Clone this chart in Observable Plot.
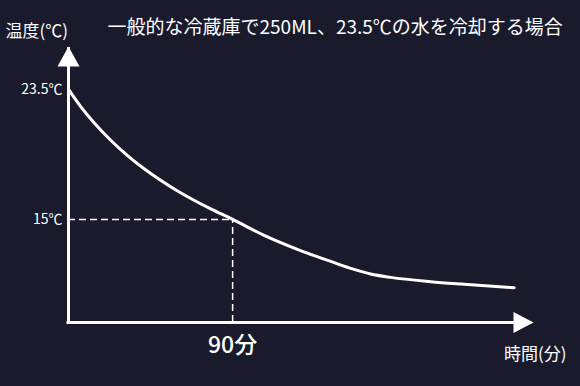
<!DOCTYPE html>
<html>
<head>
<meta charset="utf-8">
<script src="https://cdn.jsdelivr.net/npm/d3@7"></script>
<script src="https://cdn.jsdelivr.net/npm/@observablehq/plot@0.6"></script>
<style>
  html, body { margin: 0; padding: 0; background: #191b2d; }
  #chart { width: 580px; height: 386px; }
</style>
</head>
<body>
<div id="chart"></div>
<script>
// ---- data ----
const minutes = [0, 6.6, 13.9, 23, 32.2, 41.3, 50.5, 59.6, 68.8, 78, 90, 107, 125.5, 143.8, 156.6, 165.7, 176.7, 198.7, 217, 244.4];
const temps   = [23.5, 22.39, 21.33, 20.19, 19.19, 18.33, 17.56, 16.87, 16.25, 15.69, 15.0, 13.97, 13.04, 12.25, 11.73, 11.43, 11.21, 10.93, 10.76, 10.53];
const yTicks = [15, 23.5];
const xTicks = [90];
const markTime = 90;
const markTemp = 15;
const xAxisEnd = 255;      // tip of the x arrow (minutes)
const yAxisMin = 8.26;     // temperature at the x axis line
const yAxisEnd = 26.3;     // tip of the y arrow (℃)
const titleText = "一般的な冷蔵庫で250ML、23.5℃の水を冷却する場合";
const yLabelText = "温度(℃)";
const xLabelText = "時間(分)";

const data = minutes.map((m, i) => ({minute: m, temp: temps[i]}));
const font = "'Noto Sans CJK JP', 'Noto Sans', sans-serif";
const W = "#ffffff";

const arrowUp = {draw(ctx) { ctx.moveTo(0, 0); ctx.lineTo(11, 20); ctx.lineTo(-11, 20); ctx.closePath(); }};
const arrowRight = {draw(ctx) { ctx.moveTo(0, 0); ctx.lineTo(-20, 10.5); ctx.lineTo(-20, -10.5); ctx.closePath(); }};

const chart = Plot.plot({
  width: 580,
  height: 386,
  marginLeft: 68,
  marginRight: 47,
  marginTop: 46,
  marginBottom: 64,
  style: {background: "#191b2d", color: W, fontFamily: font, overflow: "visible"},
  x: {domain: [0, xAxisEnd], axis: null},
  y: {domain: [yAxisMin, yAxisEnd], axis: null},
  marks: [
    // dashed guides
    Plot.ruleY([markTemp], {x1: 0, x2: markTime, stroke: W, strokeWidth: 1.5, strokeDasharray: "7,4"}),
    Plot.ruleX([markTime], {y1: yAxisMin, y2: markTemp, stroke: W, strokeWidth: 1.5, strokeDasharray: "7,4"}),
    // axes lines
    Plot.ruleX([0], {y1: yAxisMin, y2: yAxisEnd, stroke: W, strokeWidth: 3, dy: 1}),
    Plot.ruleY([yAxisMin], {x1: 0, x2: xAxisEnd, stroke: W, strokeWidth: 3, dx: -1.5}),
    // arrow heads
    Plot.dot([0], {x: d => d, y: () => yAxisEnd, symbol: arrowUp, fill: W, stroke: null}),
    Plot.dot([yAxisMin], {x: () => xAxisEnd, y: d => d, symbol: arrowRight, fill: W, stroke: null}),
    // curve
    Plot.line(data, {x: "minute", y: "temp", curve: "monotone-x", stroke: W, strokeWidth: 3}),
    // tick labels
    Plot.axisY({ticks: yTicks, tickSize: 0, tickPadding: 6, tickFormat: d => `${d}℃`, fontSize: 14, label: null, color: W}),
    Plot.axisX({ticks: xTicks, tickSize: 0, tickPadding: 14, tickFormat: d => `${d}分`, fontSize: 23, fontWeight: 500, label: null, color: W}),
    // texts
    Plot.text([yLabelText], {frameAnchor: "top-left", text: d => d, textAnchor: "start", dx: -63, dy: -22, fontSize: 17, fill: W}),
    Plot.text([titleText], {frameAnchor: "top-left", text: d => d, textAnchor: "start", dx: 39, dy: -26, fontSize: 19, fill: W}),
    Plot.text([xLabelText], {frameAnchor: "bottom-right", text: d => d, textAnchor: "end", dx: 33, dy: 37, fontSize: 17, fill: W})
  ]
});
document.getElementById("chart").appendChild(chart);
</script>
</body>
</html>
